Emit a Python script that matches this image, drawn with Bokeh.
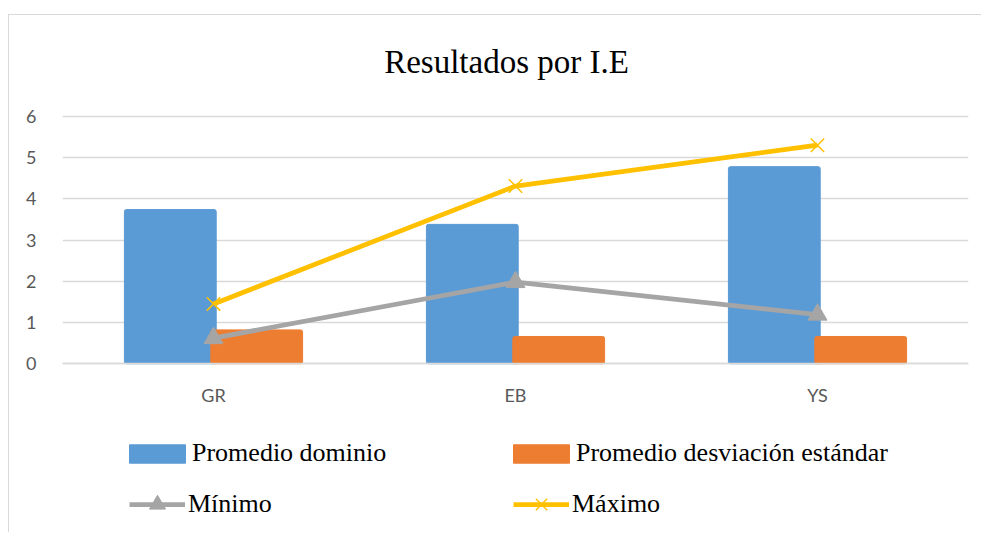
from bokeh.plotting import figure
from bokeh.models import Legend, LegendItem, Label, FactorRange, Range1d, ColumnDataSource
from bokeh.transform import dodge
from bokeh.embed import file_html
from bokeh.resources import INLINE

categories = ["GR", "EB", "YS"]
promedio_dominio = [3.74, 3.38, 4.78]
promedio_desviacion = [0.82, 0.66, 0.66]
minimo = [0.62, 1.98, 1.19]
maximo = [1.45, 4.31, 5.30]
y_ticks = [0, 1, 2, 3, 4, 5, 6]
title_text = "Resultados por I.E"
series_names = ["Promedio dominio", "Promedio desviación estándar", "Mínimo", "Máximo"]

BLUE, ORANGE, GRAY, GOLD = "#5B9BD5", "#ED7D31", "#A5A5A5", "#FFC000"

src = ColumnDataSource(dict(cat=categories, dom=promedio_dominio, desv=promedio_desviacion,
                            mn=minimo, mx=maximo))

# the frame spans the whole chart height so that title and legends (drawn inside it) are visible
p = figure(x_range=FactorRange(factors=categories, range_padding=0),
           y_range=Range1d(-4.119, 8.447),
           width=973, height=518, margin=(14, 0, 0, 8),
           output_backend="svg", toolbar_location=None,
           min_border_left=53, min_border_right=14, min_border_top=0, min_border_bottom=0,
           styles={"border-top": "1px solid #d9d9d9", "border-left": "1px solid #d9d9d9"})
p.title = None
p.outline_line_color = None
p.background_fill_color = "white"
p.border_fill_color = "white"

r_dom = p.vbar(x=dodge("cat", -0.143, range=p.x_range), top="dom", width=0.304, bottom=0,
               source=src, fill_color=BLUE, line_color=BLUE, border_radius=2)
r_desv = p.vbar(x=dodge("cat", 0.143, range=p.x_range), top="desv", width=0.304, bottom=0,
                source=src, fill_color=ORANGE, line_color=ORANGE, border_radius=2)
r_min_l = p.line(x="cat", y="mn", source=src, line_color=GRAY, line_width=4.75)
r_min_m = p.scatter(x="cat", y="mn", source=src, marker="triangle", size=19,
                    fill_color=GRAY, line_color=GRAY)
r_max_l = p.line(x="cat", y="mx", source=src, line_color=GOLD, line_width=4.75)
r_max_m = p.scatter(x="cat", y="mx", source=src, marker="x", size=19,
                    line_color=GOLD, line_width=1.5)

p.xgrid.grid_line_color = None
p.ygrid.grid_line_color = "#d9d9d9"
p.ygrid.grid_line_width = 1.5
p.yaxis.ticker = y_ticks
for ax in (p.xaxis, p.yaxis):
    ax.major_tick_line_color = None
    ax.minor_tick_line_color = None
    ax.major_label_text_font = "Lato"
    ax.major_label_text_font_size = "18px"
    ax.major_label_text_color = "#595959"
p.yaxis.major_label_standoff = 20
p.xaxis.major_label_standoff = 14
p.yaxis.axis_line_color = None
p.xaxis.axis_line_color = "#d9d9d9"
p.xaxis.axis_line_width = 1.5
p.xaxis.fixed_location = 0

p.add_layout(Label(x=444, y=472, x_units="screen", y_units="screen", text=title_text,
                   text_font="Liberation Serif", text_font_size="33px", text_color="black",
                   text_align="center", text_baseline="middle"))

common = dict(border_line_color=None, background_fill_alpha=0, padding=0, margin=0, spacing=0,
              label_text_font="Liberation Serif", label_text_font_size="26px",
              label_text_color="black", label_height=30)

def add_leg(name, renderers, x, y, gw, gh, standoff):
    leg = Legend(items=[LegendItem(label=name, renderers=renderers)], location=(x, y),
                 glyph_width=gw, glyph_height=gh, label_standoff=standoff, **common)
    p.add_layout(leg, "center")

# bar legend patches are inset by 10% of the glyph box
add_leg(series_names[0], [r_dom], 60, 65, 70, 23, -4)
add_leg(series_names[1], [r_desv], 444, 65, 70, 23, -4)
add_leg(series_names[2], [r_min_l, r_min_m], 67, 9, 56, 40, 3)
add_leg(series_names[3], [r_max_l, r_max_m], 451, 9, 56, 40, 3)

open("out.html", "w").write(file_html(p, INLINE))
